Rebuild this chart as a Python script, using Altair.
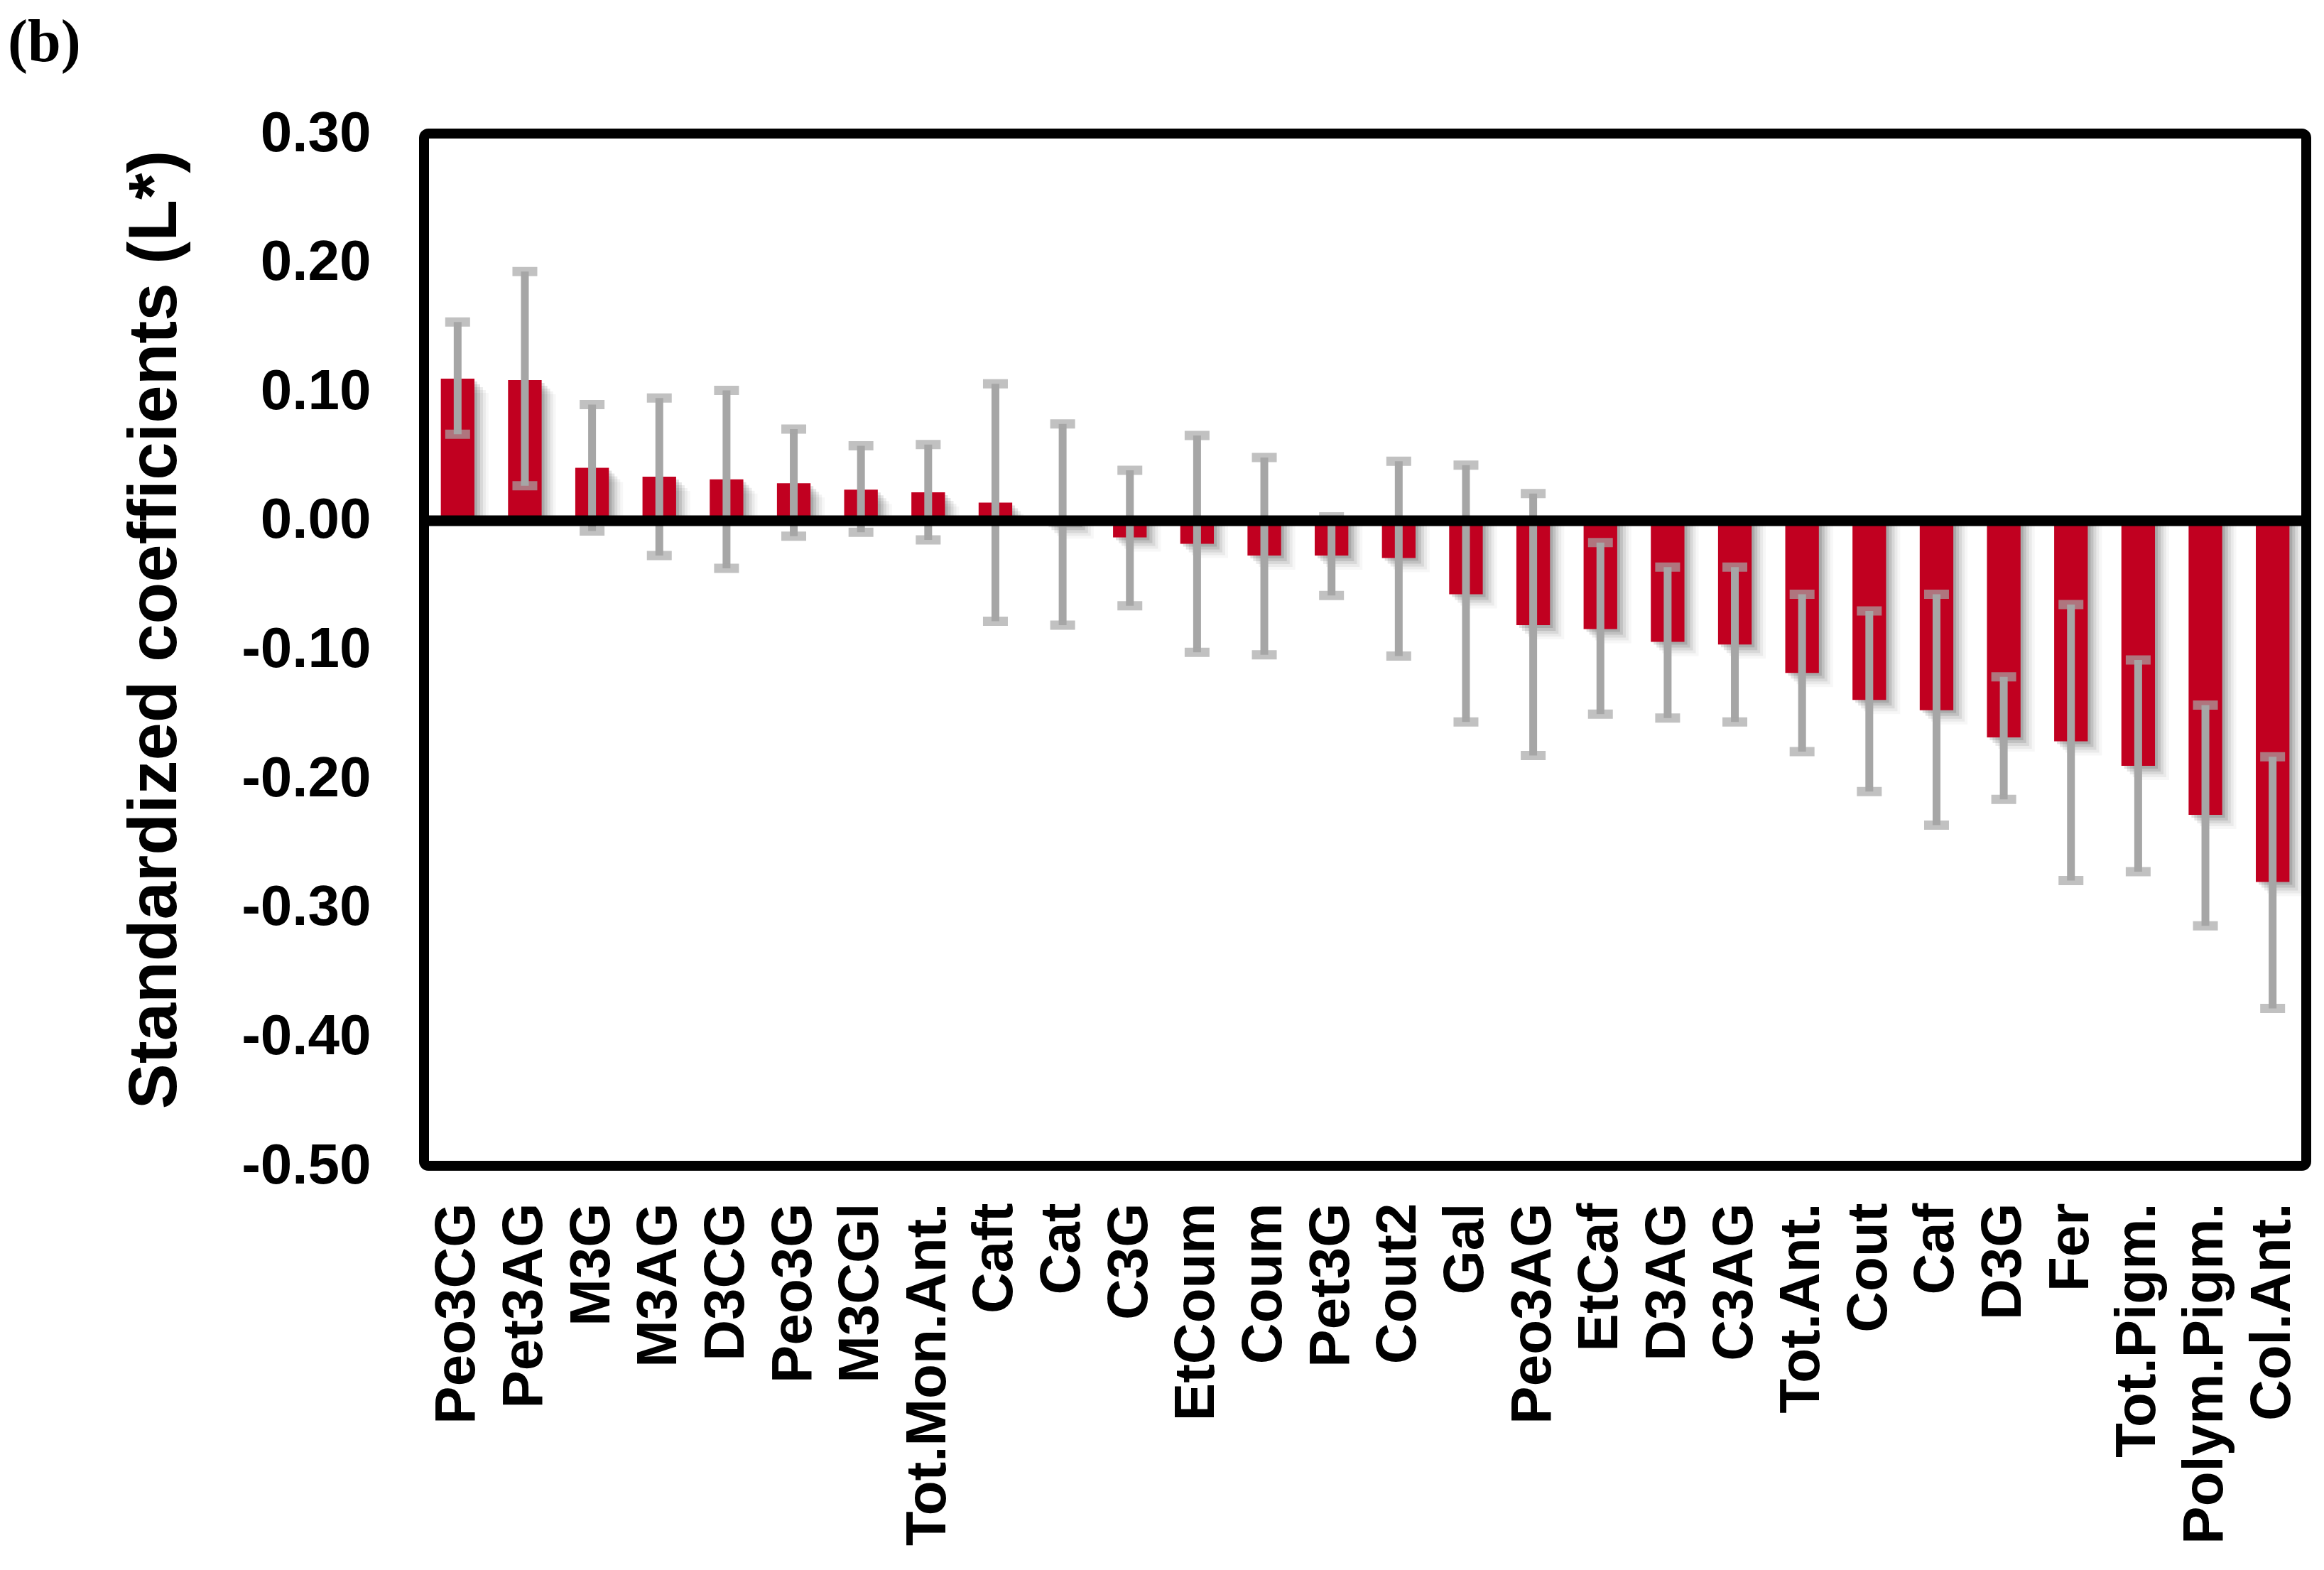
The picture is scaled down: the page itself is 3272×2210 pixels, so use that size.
import altair as alt
import pandas as pd

categories = ["Peo3CG", "Pet3AG", "M3G", "M3AG", "D3CG", "Peo3G", "M3CGl",
              "Tot.Mon.Ant.", "Caft", "Cat", "C3G", "EtCoum", "Coum", "Pet3G",
              "Cout2", "Gal", "Peo3AG", "EtCaf", "D3AG", "C3AG", "Tot.Ant.",
              "Cout", "Caf", "D3G", "Fer", "Tot.Pigm.", "Polym.Pigm.", "Col.Ant."]

coefficients = [0.110, 0.109, 0.041, 0.034, 0.032, 0.029, 0.024,
                0.022, 0.014, -0.003, -0.013, -0.018, -0.027, -0.027,
                -0.029, -0.057, -0.081, -0.084, -0.094, -0.096, -0.118,
                -0.139, -0.147, -0.168, -0.171, -0.190, -0.228, -0.280]

upper = [0.154, 0.193, 0.090, 0.095, 0.101, 0.071, 0.058,
         0.059, 0.106, 0.075, 0.039, 0.066, 0.049, 0.003,
         0.046, 0.043, 0.021, -0.017, -0.036, -0.036, -0.057,
         -0.070, -0.057, -0.121, -0.065, -0.108, -0.143, -0.183]

lower = [0.067, 0.027, -0.008, -0.027, -0.037, -0.012, -0.009,
         -0.015, -0.078, -0.081, -0.066, -0.102, -0.104, -0.058,
         -0.105, -0.156, -0.182, -0.150, -0.153, -0.156, -0.179,
         -0.210, -0.236, -0.216, -0.279, -0.272, -0.314, -0.378]

y_ticks = [0.3, 0.2, 0.1, 0.0, -0.1, -0.2, -0.3, -0.4, -0.5]

df = pd.DataFrame({"cat": categories, "coef": coefficients,
                   "lo": lower, "hi": upper})

BAR_RED = "#C10020"
ERR_GRAY = "#A6A6A6"

x_enc = alt.X(
    "cat:N", sort=categories, title=None,
    scale=alt.Scale(paddingInner=0.5, paddingOuter=0.25),
    axis=alt.Axis(
        labelAngle=270, labelAlign="right", labelBaseline="middle",
        labelFont="Liberation Sans", labelFontWeight="bold", labelFontSize=80,
        labelColor="black", labelPadding=52, ticks=False, domain=False,
        labelOverlap=False, labelLimit=1000, grid=False,
    ),
)

y_scale = alt.Scale(domain=[-0.5, 0.3], nice=False, zero=False)
y_axis = alt.Axis(
    values=y_ticks,
    labelExpr="replace(format(datum.value, '.2f'), '\u2212', '-')",
    labelFont="Liberation Sans", labelFontWeight="bold", labelFontSize=80,
    labelColor="black", labelPadding=75, ticks=False, domain=False,
    grid=False, labelLimit=1000,
    title="Standardized coefficients (L*)",
    titleFont="Liberation Sans", titleFontWeight="bold", titleFontSize=96,
    titleColor="black", titleAngle=270, titleAlign="center",
    titleBaseline="bottom", titleX=-330, titleY=698, titleLimit=3000,
)

base = alt.Chart(df)

shadows = [
    base.mark_bar(color="black", opacity=op, xOffset=off, yOffset=off).encode(
        x=x_enc, y=alt.Y("coef:Q", scale=y_scale), y2=alt.datum(0)
    )
    for off, op in [(4, 0.12), (8, 0.10), (12, 0.08), (16, 0.05), (20, 0.03)]
]

bars = base.mark_bar(color=BAR_RED).encode(
    x=x_enc,
    y=alt.Y("coef:Q", scale=y_scale, axis=y_axis),
    y2=alt.datum(0),
)

err = base.mark_rule(color=ERR_GRAY, strokeWidth=11).encode(
    x=x_enc, y=alt.Y("lo:Q", scale=y_scale), y2="hi:Q"
)
cap_lo = base.mark_tick(color=ERR_GRAY, thickness=13, size=35).encode(
    x=x_enc, y=alt.Y("lo:Q", scale=y_scale)
)
cap_hi = base.mark_tick(color=ERR_GRAY, thickness=13, size=35).encode(
    x=x_enc, y=alt.Y("hi:Q", scale=y_scale)
)

zero_line = alt.Chart(pd.DataFrame({"z": [0.0]})).mark_rule(
    color="black", strokeWidth=15
).encode(y=alt.Y("z:Q", scale=y_scale))

panel_label = alt.Chart(pd.DataFrame({"t": ["(b)"]})).mark_text(
    font="Liberation Serif", fontWeight="bold", fontSize=84, color="black",
    align="left", baseline="alphabetic"
).encode(text="t:N", x=alt.value(-586), y=alt.value(-102))

chart = alt.layer(
    *shadows, bars, err, cap_lo, cap_hi, zero_line, panel_label
).properties(
    width=2650, height=1453,
    autosize=alt.AutoSizeParams(type="none"),
    padding={"left": 589, "top": 180, "right": 17, "bottom": 555},
    background="white",
).configure_view(
    stroke="black", strokeWidth=14, cornerRadius=6
)

chart.save("out.html", embed_options={"renderer": "svg", "actions": False})
